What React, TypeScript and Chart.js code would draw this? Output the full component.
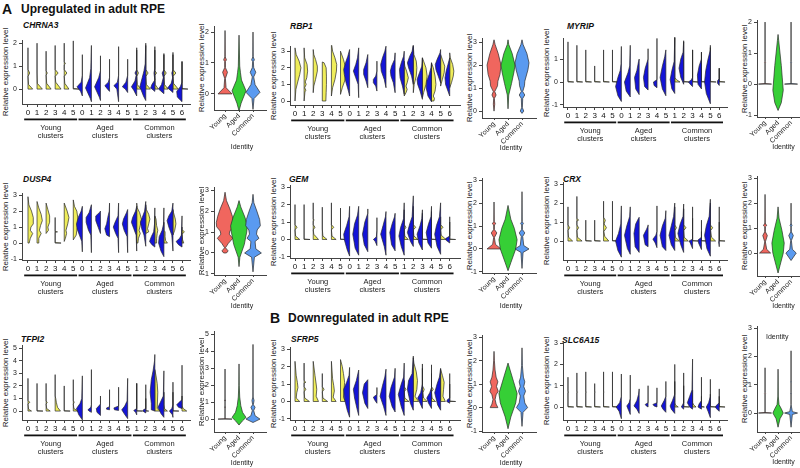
import React, { useEffect, useRef } from 'react';
import { Chart, registerables } from 'chart.js';
Chart.register(...registerables);

const FONT = "'Liberation Sans', Arial, Helvetica, sans-serif";
Chart.defaults.font.family = FONT;
Chart.defaults.color = '#222';

// ---------- labels ----------
const clusterLabels = ['0', '1', '2', '3', '4', '5', '0', '1', '2', '3', '4', '5', '1', '2', '3', '4', '5', '6'];
const groupNames = [['Young', 'clusters'], ['Aged', 'clusters'], ['Common', 'clusters']];
const groupRanges = [[0, 5], [6, 11], [12, 17]];
const identityLabels = ['Young', 'Aged', 'Common'];
const identityColors = ['#f0665e', '#36cf36', '#5a9af0'];
const yAxisTitle = 'Relative expression level';
const YELLOW = '#efed5a';
const BLUE = '#1414d6';
const _ = null;

// Each violin half: [y, relWidth, y, relWidth, ...] from bottom to top
// ---------- CHRNA3 ----------
const CHRNA3_yellow = [
  [0, .8, .2, .1, .55, 0, .7, .3, .85, 0, 1.8, 0],
  [0, .9, .25, .05, .7, 0, 2.0, 0],
  [0, .85, .25, .1, .6, 0, .7, .2, .8, 0, 1.65, 0],
  [0, 1, .3, .1, .55, 0, .7, .5, .85, 0, 1.9, 0],
  [0, .8, .25, .1, .55, 0, .7, .45, .85, 0, 1.05, 0, 1.1, .2, 1.2, 0, 2.0, 0],
  [0, 1, .03, 0, 2.1, 0],
  _, _, _, _, _, _,
  [0, .7, .2, .1, .55, 0, .7, .3, .85, 0, 1.7, 0],
  [0, .8, .2, .1, .55, 0, .7, .4, .85, 0, 1.9, 0],
  [0, .6, .2, .05, .6, 0, .7, .3, .8, 0, 1.7, 0],
  [0, .7, .2, .1, .55, 0, .7, .4, .85, 0, 1.5, 0],
  [0, .9, .25, .1, .55, 0, .7, .5, .85, 0, 1.6, 0],
  [0, 1, .03, 0, 1.2, 0],
];
const CHRNA3_blue = [
  _, _, _, _, _, _,
  [-.3, 0, -.1, .3, .1, .9, .3, .2, .6, 0, 1.5, 0],
  [-.55, 0, -.4, .2, .05, 1, .5, .3, .9, .1, 1.9, 0],
  [-.5, 0, -.35, .2, .1, 1, .5, .3, .8, 0, 1.45, 0],
  [-.1, 0, .05, .5, .15, .8, .3, .2, .5, 0, 1.3, 0],
  [-.55, 0, 0, .3, .15, .8, .3, .2, .6, 0, 1.85, 0],
  [-.15, 0, 0, .4, .1, .9, .3, .3, .6, 0, 1.3, 0],
  [-.3, 0, -.05, .5, .1, .9, .35, .3, .6, .1, .7, .3, .85, 0, 1.8, 0],
  [-.5, 0, -.3, .4, .1, 1, .5, .6, .8, .3, 1.1, .1, 2.0, 0],
  [-.1, 0, .05, .7, .2, .5, .4, 0, .7, .15, .9, 0, 1.85, 0],
  [-.2, 0, 0, .9, .2, .4, .5, .1, .7, .3, .85, 0, 1.55, 0],
  [-.15, 0, .05, .9, .25, .3, .5, .05, .7, .2, .85, 0, 1.5, 0],
  [-.55, 0, -.35, .8, -.1, .9, .1, .3, .3, 0, 1.2, 0],
];
const CHRNA3_identity = [
  [0, 1, .2, .15, .5, .05, .7, .35, .85, .05, 1.05, .05, 1.1, .2, 1.2, .03, 2.05, 0],
  [-.55, 0, -.3, .3, .1, 1, .45, .35, .7, .2, .9, .1, 1.9, 0],
  [-.5, 0, -.15, .15, .05, 1, .3, .3, .55, .1, .7, .4, .85, .1, 1.05, .05, 1.1, .2, 1.2, .03, 2.0, 0],
];

// ---------- RBP1 ----------
const RBP1_yellow = [
  [0, 0, .7, .15, 1.2, .5, 1.6, .8, 2.0, 1, 2.4, .7, 2.8, .2, 3.2, 0],
  [0, 0, .55, .15, .65, .3, .8, .1, 1.0, .35, 1.15, .2, 1.4, .45, 1.8, .6, 2.2, .5, 2.6, .1, 3.2, 0],
  [.5, 0, .9, .1, 1.3, .4, 1.8, .7, 2.1, .7, 2.5, .4, 2.8, .1, 3.1, 0],
  [0, .6, .5, .65, 1.0, .7, 1.5, .7, 2.0, .65, 2.3, .3, 2.35, 0],
  [.3, 0, .8, .2, 1.3, .6, 1.8, .85, 2.2, .9, 2.6, .6, 3.0, .2, 3.5, 0],
  [.4, 0, .8, .3, 1.2, .7, 1.7, .9, 2.1, .8, 2.5, .5, 2.9, .1, 3.0, 0],
  _, _, _, _, _, _,
  [.3, 0, .5, .3, .7, .5, .9, .3, 1.1, .5, 1.4, .7, 1.8, .4, 2.1, .1, 2.4, 0],
  [.5, 0, 1.0, .15, 1.5, .5, 2.0, .6, 2.4, .5, 2.8, .1, 3.3, 0],
  [.2, 0, .5, .2, 1.0, .6, 1.5, .8, 2.0, .6, 2.4, .2, 2.6, 0],
  [0, .4, .15, .5, .3, .3, .6, .6, 1.0, .75, 1.5, .6, 2.0, .3, 2.3, 0],
  [.9, 0, 1.3, .3, 1.7, .6, 2.1, .7, 2.5, .3, 2.8, 0],
  [.8, 0, 1.1, .3, 1.5, .6, 1.8, .7, 2.2, .5, 2.6, .1, 2.9, 0],
];
const RBP1_blue = [
  _, _, _, _, _, _,
  [.3, 0, .6, .2, 1.1, .6, 1.6, .9, 1.9, 1, 2.3, .7, 2.7, .3, 3.1, 0],
  [.2, 0, 1.0, .1, 1.4, .5, 1.8, .9, 2.2, .5, 2.6, .2, 3.2, 0],
  [.8, 0, 1.2, .3, 1.6, .7, 1.9, .7, 2.3, .3, 2.8, 0],
  [.6, 0, .9, .2, 1.1, .6, 1.3, .6, 1.5, .2, 1.8, 0, 2.4, 0],
  [.8, 0, 1.3, .3, 1.8, .8, 2.2, .9, 2.6, .6, 3.0, .2, 3.3, 0],
  [.5, 0, 1.1, .3, 1.5, .7, 1.8, .8, 2.1, .6, 2.5, .1, 2.9, 0],
  [.4, 0, .9, .3, 1.4, .7, 1.9, .8, 2.3, .5, 2.7, .1, 3.0, 0],
  [1.0, 0, 1.5, .3, 2.0, .8, 2.3, 1, 2.7, .6, 3.0, .2, 3.4, 0],
  [.1, 0, .6, .4, 1.0, .8, 1.3, .9, 1.7, .5, 2.1, .1, 2.6, 0],
  [-.05, 0, .3, .6, .8, .9, 1.2, .8, 1.6, .4, 2.0, .1, 2.3, 0],
  [1.1, 0, 1.5, .4, 1.9, .8, 2.2, .9, 2.5, .6, 2.9, .1, 3.1, 0],
  [.3, 0, .6, .3, 1.0, .7, 1.4, .8, 1.8, .6, 2.2, .3, 2.6, 0],
];
const RBP1_identity = [
  [0, 0, .3, .1, .55, .05, .7, .3, .85, .1, 1.0, .35, 1.1, .5, 1.3, .55, 1.6, .85, 2.0, 1, 2.5, .6, 2.9, .15, 3.1, 0],
  [.1, 0, .7, .1, 1.2, .5, 1.7, .85, 2.0, 1, 2.5, .6, 2.9, .1, 3.1, 0],
  [-.1, 0, 0, .25, .15, .05, .55, .1, .7, .4, .85, .1, 1.1, .35, 1.3, .4, 1.8, .85, 2.1, 1, 2.5, .7, 2.9, .15, 3.1, 0],
];

// ---------- MYRIP ----------
const MYRIP_yellow = [
  [0, 1, .03, 0, 1.75, 0],
  [0, 1, .03, 0, 1.6, 0],
  [0, 1, .03, 0, 1.4, 0],
  [0, 1, .03, 0, .7, 0],
  [0, 1, .03, 0, 1.4, 0],
  [0, 1, .03, 0, 1.4, 0],
  _, _, _, _, _, _,
  [0, .9, .1, .3, .2, 0, 1.95, 0],
  [0, 1, .03, 0, 1.75, 0],
  [0, 1, .03, 0, 1.4, 0],
  [0, 1, .03, 0, 1.3, 0],
  [0, 1, .03, 0, 1.5, 0],
  [0, 1, .03, 0, .6, 0],
];
const MYRIP_blue = [
  _, _, _, _, _, _,
  [-.85, 0, -.6, .6, -.2, 1, .2, .6, .5, .2, .8, .05, 1.55, 0],
  [-.65, 0, -.4, .7, 0, 1, .4, .4, .7, .1, 1.6, 0],
  [-.55, 0, -.3, .6, .2, .8, .5, .4, .9, .1, 1.0, 0],
  [-.35, 0, -.2, .6, .2, .8, .6, .5, 1.0, 0, 1.45, 0],
  [-.25, 0, -.15, .5, 0, .6, .1, 0, 1.9, 0],
  [-.6, 0, -.3, .6, .2, 1, .7, .6, 1.1, .2, 1.4, 0],
  [-.5, 0, -.3, .5, .1, .8, .5, .5, .9, .1, 1.95, 0],
  [-.1, 0, .2, .5, .6, .8, 1.0, .5, 1.3, .1, 1.8, 0],
  [-.2, 0, -.1, .4, 0, .7, .1, .2, .2, 0, 1.4, 0],
  [-.3, 0, -.1, .6, .3, .7, .7, .4, 1.0, 0, 1.3, 0],
  [-.95, 0, -.5, .7, 0, 1, .5, .8, 1.0, .4, 1.4, 0, 1.6, 0],
  [-.15, 0, -.05, .3, .05, .3, .15, 0, .6, 0],
];
const MYRIP_identity = [
  [0, 1, .02, 0, .68, 0, .7, .08, .72, 0, 2.0, 0],
  [-.85, 0, -.6, .5, -.2, .8, .2, .65, .6, .5, 1.0, .3, 1.4, .1, 1.6, 0],
  [0, 1, .02, 0, .68, 0, .7, .08, .72, 0, 2.0, 0],
];

// ---------- DUSP4 ----------
const DUSP4_yellow = [
  [0, .2, .3, .4, .6, .8, .8, .4, 1.0, .5, 1.2, .9, 1.6, .9, 2.0, .6, 2.4, .15, 2.9, 0],
  [0, .3, .3, .3, .6, .7, .8, .4, 1.1, .6, 1.4, .9, 1.8, .7, 2.2, .3, 2.6, 0],
  [.6, 0, .8, .4, 1.0, .3, 1.3, .6, 1.7, .6, 2.1, .3, 2.5, 0],
  [0, 1, .03, 0, .68, 0, .7, .4, .72, 0, 1.6, 0],
  [.1, 0, .3, .2, .6, .4, .8, .3, 1.2, .6, 1.6, .8, 2.0, .5, 2.5, 0],
  [.2, 0, .5, .5, .8, .6, 1.1, .8, 1.5, .8, 2.0, .6, 2.3, .2, 2.7, 0],
  _, _, _, _, _, _,
  [0, .2, .3, .3, .6, .6, .8, .4, 1.1, .6, 1.5, .8, 1.9, .5, 2.2, .1, 2.5, 0],
  [.6, 0, .7, .5, .9, .3, 1.2, .5, 1.5, .7, 1.8, .5, 2.1, .1, 2.4, 0],
  [0, .3, .3, .3, .6, .4, .8, .5, 1.1, .3, 1.5, .2, 1.7, 0],
  [0, .6, .15, .3, .4, .2, .7, .2, .8, 0, 1.3, 0],
  [.5, 0, .8, .3, 1.2, .5, 1.5, .4, 1.9, .1, 2.1, 0],
  [0, .3, .2, .1, .55, 0, .7, .4, .85, 0, 1.0, 0],
];
const DUSP4_blue = [
  _, _, _, _, _, _,
  [-.55, 0, .1, .1, .5, .5, .9, .9, 1.2, 1, 1.6, .7, 2.0, .2, 2.3, 0],
  [-.6, 0, .5, .1, .8, .5, 1.3, .9, 1.6, .9, 1.9, .4, 2.4, 0],
  [.6, 0, 1.0, .4, 1.4, .8, 1.7, .8, 1.9, .2, 2.0, 0],
  [.4, 0, .5, .5, .9, .8, 1.2, .5, 1.6, .3, 2.0, .05, 2.5, 0],
  [-.6, 0, .3, .1, .6, .5, 1.0, .9, 1.3, .6, 1.7, .1, 2.5, 0],
  [-.6, 0, .4, .1, .8, .6, 1.2, .9, 1.5, .7, 1.9, .2, 2.1, 0],
  [-.5, 0, .5, .1, .9, .5, 1.3, .9, 1.6, .7, 2.0, .2, 2.3, 0],
  [-.2, 0, .5, .3, .9, .7, 1.3, .9, 1.6, .6, 2.0, .2, 2.6, 0],
  [-.25, 0, -.1, .5, .1, .9, .4, .6, .7, .2, 1.2, .05, 2.2, 0],
  [-.85, 0, -.5, .5, 0, .9, .4, .8, .8, .3, 1.2, .05, 2.2, 0],
  [-.5, 0, .5, .2, 1.0, .7, 1.4, 1, 1.7, .7, 2.0, .2, 2.5, 0],
  [-.25, 0, -.1, .6, .1, 1, .3, .4, .5, .1, 1.7, 0],
];
const DUSP4_identity = [
  [0, .2, .1, .45, .25, .06, .45, .45, .7, 1.1, .9, .6, 1.05, .7, 1.25, 1.2, 1.45, 1.25, 1.75, 1.05, 2.1, .7, 2.5, .2, 2.9, 0],
  [-.65, 0, -.2, .12, .4, .75, 1.0, 1.1, 1.3, 1.2, 1.7, .85, 2.2, .25, 2.5, 0],
  [-.9, 0, -.2, .2, 0, 1.2, .2, .4, .55, .3, .7, .85, .9, .5, 1.1, .6, 1.3, 1.05, 1.6, .95, 2.0, .55, 2.4, .12, 2.8, 0],
];

// ---------- GEM ----------
const GEM_yellow = [
  [0, .8, .2, .1, .55, 0, .7, .35, .85, 0, 2.0, 0],
  [0, 1, .03, 0, 2.0, 0],
  [0, .9, .3, .1, .55, 0, .7, .3, .85, 0, 1.05, 0, 1.1, .15, 1.2, 0, 2.1, 0],
  [0, .8, .2, .1, .6, 0, 1.85, 0],
  [0, .8, .2, .1, .55, 0, .7, .4, .85, 0, 2.1, 0],
  [0, 1, .03, 0, 1.8, 0],
  _, _, _, _, _, _,
  [0, .7, .2, .1, .55, 0, .7, .3, .85, 0, 1.7, 0],
  [0, .8, .2, .1, .55, 0, .7, .4, .85, 0, 1.9, 0],
  [0, 1, .03, 0, 1.5, 0],
  [0, 1, .03, 0, 1.6, 0],
  [0, .9, .25, .1, .55, 0, .7, .4, .85, 0, 1.3, 0],
  [0, 1, .03, 0, 1.0, 0],
];
const GEM_blue = [
  _, _, _, _, _, _,
  [-.95, 0, -.6, .4, 0, .9, .3, 1, .8, .5, 1.3, .1, 1.9, 0],
  [-.9, 0, -.5, .6, .3, 1, .9, .7, 1.4, .2, 1.9, 0],
  [-.7, 0, -.3, .6, .3, .9, 1.0, .5, 1.5, 0, 1.75, 0],
  [-.35, 0, -.1, .3, 0, .6, .15, .1, .5, 0, 1.25, 0],
  [-.9, 0, -.4, .3, .3, .9, .8, .5, 1.3, .1, 1.6, 0],
  [-.65, 0, -.3, .6, .4, .9, .9, .5, 1.3, .1, 1.5, 0],
  [-.9, 0, -.4, .5, .2, .9, .7, .6, 1.2, .1, 2.1, 0],
  [-.4, 0, -.1, .5, .4, 1, .9, .6, 1.3, .2, 2.5, 0],
  [-.6, 0, -.2, .6, .3, .9, .8, .4, 1.2, .1, 1.7, 0],
  [-.5, 0, -.2, .6, .4, .9, .9, .5, 1.3, .1, 1.9, 0],
  [-.85, 0, -.4, .6, .3, 1, .8, .7, 1.3, .2, 2.1, 0],
  [-.2, 0, -.05, .6, .05, .7, .2, 0, 1.3, 0],
];
const GEM_identity = [
  [0, 1, .2, .2, .5, .05, .7, .4, .85, .05, 1.05, .05, 1.1, .25, 1.2, .03, 2.05, 0],
  [-.95, 0, -.6, .4, 0, 1.1, .4, 1.3, .9, .9, 1.3, .4, 1.9, 0],
  [-.85, 0, -.15, .15, 0, 1, .15, .25, .55, .1, .7, .4, .85, .05, 1.05, .05, 1.1, .2, 1.2, .03, 2.5, 0],
];

// ---------- CRX ----------
const CRX_yellow = [
  [0, .8, .2, .1, .55, 0, .7, .3, .85, 0, 1.8, 0],
  [0, .9, .2, .1, .55, 0, .7, .3, .85, 0, 1.05, 0, 1.1, .3, 1.2, 0, 2.35, 0],
  [0, 1, .03, 0, 1.1, 0],
  [0, 1, .03, 0, 1.1, 0],
  [0, .9, .25, .2, .5, .05, .7, .5, .9, .1, 1.1, .3, 1.25, 0, 2.1, 0],
  [0, 1, .03, 0, 2.1, 0],
  _, _, _, _, _, _,
  [0, .8, .2, .1, .55, 0, .7, .3, .85, 0, 1.8, 0],
  [0, .8, .2, .1, .55, 0, .7, .4, .85, 0, 1.7, 0],
  [0, 1, .03, 0, 1.2, 0],
  [0, 1, .03, 0, .5, 0],
  [0, .9, .2, .2, .55, .05, .7, .4, .85, 0, 2.0, 0],
  [0, 1, .03, 0, 1.0, 0],
];
const CRX_blue = [
  _, _, _, _, _, _,
  [-.85, 0, -.5, .6, 0, 1, .4, .5, .9, .1, 1.85, 0],
  [-.7, 0, -.4, .5, .3, 1, .8, .6, 1.3, .1, 1.8, 0],
  [-.6, 0, -.3, .7, .4, .9, .9, .6, 1.2, .1, 1.25, 0],
  [-.3, 0, -.2, .5, .3, .8, .6, .3, .8, 0, .85, 0],
  [-.35, 0, -.1, .3, .1, .7, .3, .2, .5, 0, 1.85, 0],
  [-.5, 0, -.3, .6, .3, 1, .8, .6, 1.2, .1, 1.6, 0],
  [-.5, 0, -.2, .6, .3, 1, .8, .6, 1.3, .2, 2.0, 0],
  [-.6, 0, -.2, .5, .4, 1, .9, .6, 1.3, .1, 1.95, 0],
  [-.4, 0, -.1, .4, 0, .6, .1, 0, 1.8, 0],
  [-.45, 0, -.1, .5, .05, .6, .2, 0, 1.1, 0],
  [-.8, 0, -.4, .6, .3, 1, .8, .7, 1.3, .2, 2.2, 0],
  [-.3, 0, -.05, .1, .05, 0, 1.8, 0],
];
const CRX_identity = [
  [0, .85, .15, .25, .45, .05, .7, .35, .85, .05, 1.05, .05, 1.1, .25, 1.2, .03, 2.35, 0],
  [-.8, 0, -.5, .3, 0, .8, .4, .95, .9, .6, 1.4, .15, 1.85, 0],
  [-.3, 0, 0, .8, .15, .2, .5, .05, .7, .35, .85, .05, 1.05, .03, 1.1, .15, 1.2, 0, 2.0, 0],
];

// ---------- TFPI2 ----------
const TFPI2_yellow = [
  [0, .6, .15, .1, .55, 0, .7, .3, .85, 0, 2.6, 0],
  [0, 1, .03, 0, 2.2, 0],
  [0, .7, .2, .1, .55, 0, .7, .2, .8, 0, 2.2, 0],
  [0, .9, .3, .4, .7, .2, 1.0, .1, 1.2, 0, 2.9, 0],
  [0, 1, .03, 0, 2.0, 0],
  [0, .8, .2, .1, .55, 0, .7, .15, .85, 0, 2.5, 0],
  _, _, _, _, _, _,
  [0, 1, .03, 0, 2.2, 0],
  [0, .5, .03, 0, 1.0, 0],
  [0, .9, .2, .4, .8, .45, 1.5, .5, 2.2, .4, 2.8, .2, 3.3, 0],
  [0, .6, .2, .1, .5, 0, 1.5, 0],
  [0, 1, .03, 0, 1.5, 0],
  [0, .8, .2, .2, .4, 0, 1.2, 0],
];
const TFPI2_blue = [
  _, _, _, _, _, _,
  [-.7, 0, -.3, .6, .2, 1, .6, .4, 1.0, .1, 2.8, 0],
  [-.1, 0, 0, .4, .1, .6, .3, .1, .5, 0, 3.3, 0],
  [-.35, 0, -.1, .6, .2, .7, .5, .1, .6, 0, 1.2, 0],
  [.1, 0, .15, .5, .25, .5, .35, 0, 1.7, 0],
  [.05, 0, .1, .7, .25, .8, .4, 0, 1.9, 0],
  [-.6, 0, -.2, .6, .1, 1, .4, .5, .8, .1, 2.6, 0],
  [-.3, 0, -.1, .2, .05, .5, .2, 0, 2.2, 0],
  [-.15, 0, 0, .5, .1, .4, .2, 0, 2.1, 0],
  [0, 0, .1, .6, .6, .6, 1.5, .8, 2.5, .6, 3.2, .3, 4.0, .05, 4.5, 0],
  [-.5, 0, -.2, .5, .3, 1, .8, .5, 1.2, .1, 3.2, 0],
  [-.5, 0, -.3, .1, 0, .6, .2, .2, .5, 0, 2.3, 0],
  [.2, 0, .3, .6, .5, .9, .7, .5, .9, 0, 3.65, 0],
];
const TFPI2_identity = [
  [0, 1, .02, 0, .68, 0, .7, .1, .72, 0, 1.08, 0, 1.1, .1, 1.12, 0, 2.95, 0],
  [-.35, 0, -.1, .5, .1, 1, .4, .5, .8, .25, 1.3, .1, 2.0, .03, 3.25, 0],
  [-.2, 0, 0, 1, .2, .3, .5, .1, .7, .3, .85, .05, 1.1, .15, 1.3, .02, 4.4, 0],
];

// ---------- SFRP5 ----------
const SFRP5_yellow = [
  [0, .8, .2, .2, .5, .3, .8, .5, 1.1, .4, 1.5, .2, 2.3, 0],
  [0, .9, .2, .1, .55, 0, .7, .3, .85, 0, 1.05, 0, 1.1, .3, 1.2, 0, 2.2, 0],
  [0, .9, .3, .5, .7, .6, 1.0, .5, 1.5, .3, 2.3, 0],
  [0, .9, .2, .1, .55, 0, .7, .3, .85, 0, 1.6, 0],
  [0, .8, .25, .3, .6, .5, .9, .4, 1.3, .2, 2.3, 0],
  [0, .8, .25, .5, .7, .6, 1.1, .7, 1.6, .5, 2.0, .3, 2.4, 0],
  _, _, _, _, _, _,
  [0, .8, .2, .1, .55, 0, .7, .3, .85, 0, 1.2, 0],
  [0, .9, .3, .3, .7, .6, 1.2, .7, 1.7, .5, 2.2, .1, 2.5, 0],
  [0, .8, .2, .2, .5, .1, .7, .3, .9, 0, 1.9, 0],
  [0, .7, .2, .1, .55, 0, .7, .3, .85, 0, 1.6, 0],
  [0, .8, .3, .4, .7, .5, 1.1, .6, 1.5, .3, 1.85, 0],
  [0, 1, .03, 0, 1.0, 0],
];
const SFRP5_blue = [
  _, _, _, _, _, _,
  [-.9, 0, -.5, .4, .2, .9, .7, 1, 1.1, .5, 1.5, .1, 1.95, 0],
  [-.8, 0, -.4, .3, .2, .7, .7, .9, 1.2, .4, 1.8, 0],
  [-.4, 0, -.1, .5, .5, .9, 1.0, .6, 1.25, 0],
  [-.1, 0, .1, .4, .25, .6, .4, 0, .8, 0],
  [-.8, 0, -.3, .4, .3, 1, .9, .6, 1.4, .2, 1.85, 0],
  [-.6, 0, -.3, .5, .3, 1, .8, .7, 1.4, .1, 1.9, 0],
  [-.8, 0, -.3, .5, .4, 1, 1.0, .5, 1.4, .1, 2.2, 0],
  [-.5, 0, -.1, .5, .7, 1, 1.2, .8, 1.6, .2, 2.6, 0],
  [-.4, 0, -.1, .4, .2, .8, .5, .3, 1.0, 0, 2.15, 0],
  [-.4, 0, -.1, .5, .2, .8, .5, .3, .8, 0, 2.1, 0],
  [-.5, 0, -.2, .5, .5, 1, 1.0, .6, 1.4, .2, 1.9, 0],
  [-.1, 0, 0, .5, .1, .4, .2, 0, 1.6, 0],
];
const SFRP5_identity = [
  [0, .55, .15, .3, .35, .15, .55, .3, .7, .6, .9, .35, 1.1, .55, 1.3, .3, 1.6, .15, 2.0, .05, 2.4, 0],
  [-.9, 0, -.4, .4, .2, 1.1, .6, 1.3, 1.1, .8, 1.6, .3, 1.9, 0],
  [-.8, 0, -.2, .15, 0, .8, .2, .4, .5, .25, .7, .5, .9, .25, 1.1, .4, 1.3, .2, 1.8, .05, 2.55, 0],
];

// ---------- SLC6A15 ----------
const SLC6A15_yellow = [
  [0, 1, .03, 0, .68, 0, .7, .1, .72, 0, 1.4, 0],
  [0, 1, .03, 0, .68, 0, .7, .1, .72, 0, 1.6, 0],
  [0, 1, .03, 0, .68, 0, .7, .1, .72, 0, 1.65, 0],
  [0, 1, .03, 0, .68, 0, .7, .1, .72, 0, 1.1, 0],
  [0, 1, .03, 0, .68, 0, .7, .1, .72, 0, 1.65, 0],
  [0, 1, .03, 0, .68, 0, .7, .1, .72, 0, 1.65, 0],
  _, _, _, _, _, _,
  [0, .6, .1, .1, .2, 0, 1.2, 0],
  [0, 1, .03, 0, 1.0, 0],
  [0, .6, .1, .2, .2, 0, .8, 0],
  [0, .5, .03, 0, .5, 0],
  [0, 1, .03, 0, .6, 0],
  [0, 1, .03, 0, .5, 0],
];
const SLC6A15_blue = [
  _, _, _, _, _, _,
  [-.55, 0, -.2, .4, 0, .9, .2, .3, .5, 0, 1.55, 0],
  [-.35, 0, -.15, .3, .05, .6, .2, .2, .4, 0, 1.5, 0],
  [-.3, 0, -.1, .4, .05, .9, .3, .4, .6, .1, .85, 0],
  [0, 0, .05, .3, .12, .5, .2, 0, 1.0, 0],
  [0, 0, .05, .5, .12, .7, .2, 0, .9, 0],
  [-.25, 0, -.1, .5, .05, .8, .3, .3, .5, 0, 1.2, 0],
  [-.3, 0, -.1, .6, .05, .8, .3, .4, .6, 0, 2.0, 0],
  [-.1, 0, 0, .4, .1, .2, .2, 0, 1.6, 0],
  [-.1, 0, 0, .5, .2, .9, .5, .5, .8, .1, 2.25, 0],
  [-.1, 0, 0, .6, .15, .4, .3, 0, 1.4, 0],
  [-.5, 0, -.2, .4, 0, .7, .2, .3, .5, 0, 1.3, 0],
  [-.2, 0, -.05, .6, .05, .6, .2, 0, .85, 0],
];
const SLC6A15_identity = [
  [0, 1, .02, 0, .68, 0, .7, .08, .72, 0, 1.6, 0],
  [-.5, 0, -.2, .3, 0, .8, .15, .5, .3, .15, .6, .03, 1.55, 0],
  [-.5, 0, -.05, .2, 0, 1, .05, .2, .3, 0, .68, 0, .7, .1, .72, 0, 1.08, 0, 1.1, .1, 1.12, 0, 2.2, 0],
];

// ---------- layout (page pixels) ----------
const CY_W = 21, IY_W = 17, PAD_T = 6, PAD_R = 5, CX_H = 46;

const clusterPanels = [
  { gene: 'CHRNA3', blue: CHRNA3_blue, yellow: CHRNA3_yellow, ax: 22, ar: 190, xmin: -0.66, xmax: 17.88, yt: 40, yb: 104, ymin: -0.65, ymax: 2.13, yticks: [0, 1, 2], lx: 23, ly: 26 },
  { gene: 'RBP1', blue: RBP1_blue, yellow: RBP1_yellow, ax: 290, ar: 460, xmin: -0.55, xmax: 18.13, yt: 46, yb: 105, ymin: -0.24, ymax: 3.3, yticks: [0, 1, 2, 3], lx: 290, ly: 27 },
  { gene: 'MYRIP', blue: MYRIP_blue, yellow: MYRIP_yellow, ax: 563, ar: 727, xmin: -0.56, xmax: 17.87, yt: 38, yb: 107, ymin: -1.09, ymax: 1.91, yticks: [-1, 0, 1], lx: 567, ly: 27 },
  { gene: 'DUSP4', blue: DUSP4_blue, yellow: DUSP4_yellow, ax: 22, ar: 190, xmin: -0.66, xmax: 17.88, yt: 193, yb: 260, ymin: -1.06, ymax: 3.12, yticks: [-1, 0, 1, 2, 3], lx: 23, ly: 180 },
  { gene: 'GEM', blue: GEM_blue, yellow: GEM_yellow, ax: 290, ar: 460, xmin: -0.55, xmax: 18.13, yt: 185, yb: 258, ymin: -1.06, ymax: 3.11, yticks: [-1, 0, 1, 2, 3], lx: 289, ly: 180 },
  { gene: 'CRX', blue: CRX_blue, yellow: CRX_yellow, ax: 563, ar: 727, xmin: -0.56, xmax: 17.87, yt: 182, yb: 260, ymin: -1.0, ymax: 3.1, yticks: [0, 1, 2, 3], lx: 563, ly: 180 },
  { gene: 'TFPI2', blue: TFPI2_blue, yellow: TFPI2_yellow, ax: 22, ar: 190, xmin: -0.66, xmax: 17.88, yt: 345, yb: 420, ymin: -0.71, ymax: 5.24, yticks: [0, 1, 2, 3, 4, 5], lx: 21, ly: 340 },
  { gene: 'SFRP5', blue: SFRP5_blue, yellow: SFRP5_yellow, ax: 290, ar: 460, xmin: -0.55, xmax: 18.13, yt: 347, yb: 420, ymin: -1.06, ymax: 3.11, yticks: [-1, 0, 1, 2, 3], lx: 291, ly: 340 },
  { gene: 'SLC6A15', blue: SLC6A15_blue, yellow: SLC6A15_yellow, ax: 563, ar: 727, xmin: -0.56, xmax: 17.87, yt: 341, yb: 420, ymin: -0.61, ymax: 3.09, yticks: [0, 1, 2, 3], lx: 562, ly: 341 },
];

const identityPanels = [
  { shapes: CHRNA3_identity, ax: 214, ar: 266, xmin: -0.79, xmax: 2.93, yt: 26, yb: 110, ymin: -0.52, ymax: 2.19, yticks: [0, 1, 2], ty: 147 },
  { shapes: RBP1_identity, ax: 482, ar: 536, xmin: -0.86, xmax: 3.0, yt: 38, yb: 118, ymin: -0.3, ymax: 3.17, yticks: [0, 1, 2, 3], ty: 148 },
  { shapes: MYRIP_identity, ax: 757, ar: 806, xmin: -0.62, xmax: 3.15, yt: 20, yb: 117, ymin: -1.06, ymax: 2.06, yticks: [-1, 0, 1, 2], ty: 147 },
  { shapes: DUSP4_identity, ax: 214, ar: 266, xmin: -0.79, xmax: 2.93, yt: 187, yb: 275, ymin: -1.05, ymax: 3.14, yticks: [-1, 0, 1, 2, 3], ty: 306 },
  { shapes: GEM_identity, ax: 482, ar: 536, xmin: -0.86, xmax: 3.0, yt: 178, yb: 273, ymin: -1.05, ymax: 3.09, yticks: [-1, 0, 1, 2, 3], ty: 306 },
  { shapes: CRX_identity, ax: 757, ar: 806, xmin: -0.62, xmax: 3.15, yt: 176, yb: 276, ymin: -0.92, ymax: 3.08, yticks: [0, 1, 2, 3], ty: 306 },
  { shapes: TFPI2_identity, ax: 214, ar: 266, xmin: -0.79, xmax: 2.93, yt: 331, yb: 432, ymin: -0.76, ymax: 5.18, yticks: [0, 1, 2, 3, 4, 5], ty: 463 },
  { shapes: SFRP5_identity, ax: 482, ar: 536, xmin: -0.86, xmax: 3.0, yt: 335, yb: 432, ymin: -1.04, ymax: 3.09, yticks: [-1, 0, 1, 2, 3], ty: 463 },
  { shapes: SLC6A15_identity, ax: 757, ar: 806, xmin: -0.62, xmax: 3.15, yt: 326, yb: 432, ymin: -0.67, ymax: 3.07, yticks: [0, 1, 2, 3], ty: 462 },
];

// ---------- helpers ----------
type Item = { x: number; side: number; shape: number[]; color: string };

function makeViolinPlugin(items: Item[], halfW: number) {
  return {
    id: 'violins',
    afterDatasetsDraw(chart: any) {
      const { ctx, chartArea } = chart;
      const xs = chart.scales.x, ys = chart.scales.y;
      ctx.save();
      ctx.beginPath();
      ctx.rect(chartArea.left, chartArea.top - 1, chartArea.right - chartArea.left + 10, chartArea.bottom - chartArea.top + 2);
      ctx.clip();
      for (const it of items) {
        const s = it.shape;
        const n = s.length / 2;
        const cx = xs.getPixelForValue(it.x);
        const px = (w: number, side: number) => xs.getPixelForValue(it.x + side * w * halfW);
        const py = (y: number) => ys.getPixelForValue(y);
        ctx.beginPath();
        if (it.side === 0) {
          for (let k = 0; k < n; k++) {
            const X = px(s[2 * k + 1], 1), Y = py(s[2 * k]);
            if (k === 0) ctx.moveTo(X, Y); else ctx.lineTo(X, Y);
          }
          for (let k = n - 1; k >= 0; k--) ctx.lineTo(px(s[2 * k + 1], -1), py(s[2 * k]));
        } else {
          ctx.moveTo(cx, py(s[0]));
          for (let k = 0; k < n; k++) ctx.lineTo(px(s[2 * k + 1], it.side), py(s[2 * k]));
          ctx.lineTo(cx, py(s[2 * (n - 1)]));
        }
        ctx.closePath();
        ctx.fillStyle = it.color;
        ctx.fill();
        ctx.strokeStyle = '#2a2a2a';
        ctx.lineWidth = 0.7;
        ctx.stroke();
      }
      ctx.restore();
    },
  };
}

function yScale(p: any, yW: number) {
  return {
    type: 'linear', position: 'left', min: p.ymin, max: p.ymax,
    afterBuildTicks: (s: any) => { s.ticks = p.yticks.map((v: number) => ({ value: v })); },
    afterFit: (s: any) => { s.width = yW; },
    ticks: { font: { size: 7, family: FONT }, color: '#222', padding: 2, autoSkip: false },
    grid: { display: true, drawOnChartArea: false, drawTicks: true, tickLength: 3, color: '#444', lineWidth: 1 },
    border: { display: true, color: '#444', width: 1 },
    title: { display: false },
  };
}

function clusterConfig(p: any) {
  const items: Item[] = [];
  for (let i = 0; i < clusterLabels.length; i++) {
    if (p.yellow[i]) items.push({ x: i, side: 1, shape: p.yellow[i], color: YELLOW });
    if (p.blue[i]) items.push({ x: i, side: -1, shape: p.blue[i], color: BLUE });
  }
  const groupsPlugin = {
    id: 'groups',
    afterDraw(chart: any) {
      const { ctx, chartArea } = chart;
      const xs = chart.scales.x;
      ctx.save();
      groupRanges.forEach(([a, b], g) => {
        const x1 = xs.getPixelForValue(a - 0.42), x2 = xs.getPixelForValue(b + 0.42);
        ctx.fillStyle = '#111';
        ctx.fillRect(x1, chartArea.bottom + 14.5, x2 - x1, 1.8);
        ctx.font = `7.5px ${FONT}`;
        ctx.textAlign = 'center';
        ctx.textBaseline = 'middle';
        ctx.fillStyle = '#222';
        ctx.fillText(groupNames[g][0], (x1 + x2) / 2, chartArea.bottom + 23.5);
        ctx.fillText(groupNames[g][1], (x1 + x2) / 2, chartArea.bottom + 31.5);
      });
      ctx.restore();
    },
  };
  return {
    type: 'scatter',
    data: { datasets: [] },
    options: {
      responsive: false, animation: false, devicePixelRatio: 1, events: [],
      layout: { padding: { top: PAD_T, right: PAD_R, left: 0, bottom: 0 } },
      plugins: { legend: { display: false }, tooltip: { enabled: false } },
      scales: {
        x: {
          type: 'linear', position: 'bottom', min: p.xmin, max: p.xmax,
          afterBuildTicks: (s: any) => { s.ticks = clusterLabels.map((_l, i) => ({ value: i })); },
          afterFit: (s: any) => { s.height = CX_H; },
          ticks: { callback: (_v: any, i: number) => clusterLabels[i], font: { size: 8, family: FONT }, color: '#111', padding: 1, autoSkip: false, maxRotation: 0, minRotation: 0 },
          grid: { display: true, drawOnChartArea: false, drawTicks: true, tickLength: 3, color: '#444', lineWidth: 1 },
          border: { display: true, color: '#444', width: 1 },
        },
        y: yScale(p, CY_W),
      },
    },
    plugins: [makeViolinPlugin(items, 0.65), groupsPlugin],
  };
}

function identityConfig(p: any, xH: number, canvasTop: number) {
  const items: Item[] = p.shapes.map((s: number[], i: number) => ({ x: i, side: 0, shape: s, color: identityColors[i] }));
  const titlePlugin = {
    id: 'identityTitle',
    afterDraw(chart: any) {
      const { ctx, chartArea } = chart;
      ctx.save();
      ctx.font = `7px ${FONT}`;
      ctx.textAlign = 'center';
      ctx.textBaseline = 'middle';
      ctx.fillStyle = '#222';
      ctx.fillText('Identity', (chartArea.left + chartArea.right) / 2 + 2, p.ty - canvasTop);
      ctx.restore();
    },
  };
  return {
    type: 'scatter',
    data: { datasets: [] },
    options: {
      responsive: false, animation: false, devicePixelRatio: 1, events: [],
      layout: { padding: { top: PAD_T, right: PAD_R, left: 0, bottom: 0 } },
      plugins: { legend: { display: false }, tooltip: { enabled: false } },
      scales: {
        x: {
          type: 'linear', position: 'bottom', min: p.xmin, max: p.xmax,
          afterBuildTicks: (s: any) => { s.ticks = identityLabels.map((_l, i) => ({ value: i })); },
          afterFit: (s: any) => { s.height = xH; },
          ticks: { callback: (_v: any, i: number) => identityLabels[i], font: { size: 7, family: FONT }, color: '#222', padding: 0, autoSkip: false, maxRotation: 45, minRotation: 45 },
          grid: { display: true, drawOnChartArea: false, drawTicks: true, tickLength: 2, color: '#444', lineWidth: 1 },
          border: { display: true, color: '#444', width: 1 },
        },
        y: yScale(p, IY_W),
      },
    },
    plugins: [makeViolinPlugin(items, 0.5), titlePlugin],
  };
}

function ChartCanvas({ build, left, top, width, height }: any) {
  const ref = useRef<HTMLCanvasElement>(null);
  useEffect(() => {
    const chart = new Chart(ref.current as HTMLCanvasElement, build() as any);
    return () => chart.destroy();
  }, []);
  return <canvas ref={ref} width={width} height={height} style={{ position: 'absolute', left, top, width, height }} />;
}

function YTitle({ cx, cy }: any) {
  return (
    <div style={{ position: 'absolute', left: cx - 60, top: cy - 5, width: 120, height: 10, lineHeight: '10px', fontSize: 8, fontFamily: FONT, color: '#222', textAlign: 'center', whiteSpace: 'nowrap', transform: 'rotate(-90deg)' }}>{yAxisTitle}</div>
  );
}

function ClusterPanel({ p }: any) {
  const left = p.ax - CY_W;
  const top = p.yt - PAD_T;
  const width = p.ar - left + PAD_R;
  const height = p.yb - top + CX_H;
  return (
    <>
      <div style={{ position: 'absolute', left: p.lx, top: p.ly - 6, lineHeight: '12px', font: `italic bold 8.5px ${FONT}`, color: '#111', whiteSpace: 'nowrap' }}>{p.gene}</div>
      <YTitle cx={p.ax - 16} cy={(p.yt + p.yb) / 2} />
      <ChartCanvas build={() => clusterConfig(p)} left={left} top={top} width={width} height={height} />
    </>
  );
}

function IdentityPanel({ p }: any) {
  const left = p.ax - IY_W;
  const top = p.yt - PAD_T;
  const width = p.ar - left + PAD_R;
  const xH = p.ty - p.yb + 8;
  const height = p.yb - top + xH;
  return (
    <>
      <YTitle cx={p.ax - 12} cy={(p.yt + p.yb) / 2} />
      <ChartCanvas build={() => identityConfig(p, xH, top)} left={left} top={top} width={width} height={height} />
    </>
  );
}

const headStyle = { position: 'absolute' as const, whiteSpace: 'nowrap' as const, color: '#111', fontFamily: FONT, fontWeight: 'bold' as const };

export default function App() {
  return (
    <div style={{ position: 'absolute', left: 0, top: 0, width: 800, height: 468, background: '#fff', overflow: 'hidden', fontFamily: FONT }}>
      <div style={{ ...headStyle, left: 2, top: 1, fontSize: 14, lineHeight: '16px' }}>A</div>
      <div style={{ ...headStyle, left: 21, top: 2, fontSize: 12, lineHeight: '14px' }}>Upregulated in adult RPE</div>
      <div style={{ ...headStyle, left: 270, top: 310, fontSize: 14, lineHeight: '16px' }}>B</div>
      <div style={{ ...headStyle, left: 288, top: 311, fontSize: 12, lineHeight: '14px' }}>Downregulated in adult RPE</div>
      {clusterPanels.map((p) => <ClusterPanel key={p.gene} p={p} />)}
      {identityPanels.map((p, i) => <IdentityPanel key={i} p={p} />)}
      <div style={{ position: 'absolute', left: 766, top: 332, fontSize: 7, lineHeight: '10px', color: '#222', fontFamily: FONT }}>Identity</div>
    </div>
  );
}
